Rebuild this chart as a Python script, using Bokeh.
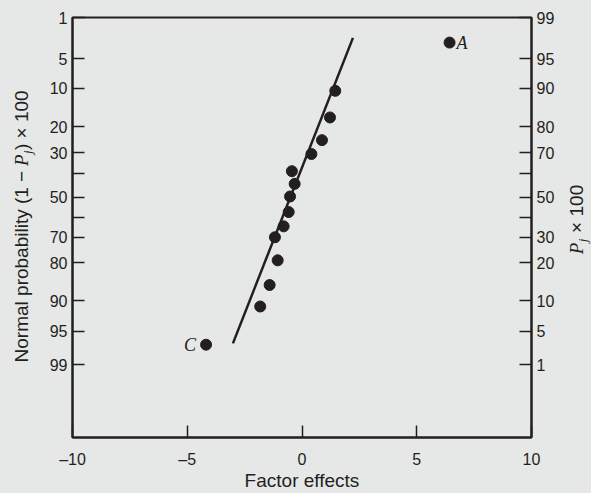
import math
from bokeh.plotting import figure
from bokeh.models import Range1d, LinearAxis, FixedTicker, Label
from bokeh.layouts import row
from bokeh.embed import file_html
from bokeh.resources import INLINE

# ---------------- data ----------------
# x: factor effect; y: position on the normal-probability scale (normal score units)
effect_x = [1.45, 1.22, 0.87, 0.41, -0.44, -0.32, -0.52, -0.58, -0.80, -1.18, -1.06, -1.41, -1.82]
effect_y = [-1.34, -1.005, -0.72, -0.546, -0.33, -0.171, -0.012, 0.183, 0.363, 0.50, 0.79, 1.10, 1.37]
outlier_names = ["A", "C"]
outlier_x = [6.43, -4.18]
outlier_y = [-1.946, 1.85]
fit_x = [-3.01, 2.22]
fit_y = [1.833, -2.005]

x_ticks = [-10, -5, 0, 5, 10]
x_tick_labels = ["\u201310", "\u20135", "0", "5", "10"]
left_tick_pos = [-2.26, -1.74, -1.37, -0.89, -0.56, -0.30, 0.0, 0.25, 0.50, 0.82, 1.30, 1.68, 2.10]
left_tick_labels = ["1", "5", "10", "20", "30", "", "50", "", "70", "80", "90", "95", "99"]
right_tick_pos = [-2.26, -1.74, -1.37, -0.89, -0.56, -0.30, 0.0, 0.25, 0.50, 0.82, 1.30, 1.68, 2.10]
right_tick_labels = ["99", "95", "90", "80", "70", "", "50", "", "30", "20", "10", "5", "1"]

x_label = "Factor effects"

# ---------------- styling ----------------
INK = "#231f20"
BG = "#e6e7e7"
SANS = "Liberation Sans"
SERIF = "Liberation Serif"

X0, X1 = -10, 10
Y_BOTTOM, Y_TOP = 3.016, -2.261

H = 493
TOP_B, BOT_B = 17, 54
LEFT_W, MAIN_W, RIGHT_W = 44, 516, 31

p = figure(width=MAIN_W, height=H, x_range=Range1d(X0, X1), y_range=Range1d(Y_BOTTOM, Y_TOP),
           output_backend="svg", toolbar_location=None,
           min_border_left=28, min_border_right=29, min_border_top=TOP_B, min_border_bottom=BOT_B)
p.background_fill_color = BG
p.border_fill_color = BG
p.outline_line_color = INK
p.outline_line_width = 2
p.grid.grid_line_color = None

p.xaxis.ticker = FixedTicker(ticks=x_ticks)
p.xaxis.major_label_overrides = dict(zip(x_ticks, x_tick_labels))
p.yaxis.ticker = FixedTicker(ticks=left_tick_pos)
p.yaxis.major_label_overrides = dict(zip(left_tick_pos, left_tick_labels))

yr = LinearAxis(ticker=FixedTicker(ticks=right_tick_pos),
                major_label_overrides=dict(zip(right_tick_pos, right_tick_labels)))
p.add_layout(yr, "right")

for ax in [p.xaxis[0], p.yaxis[0], yr]:
    ax.axis_line_color = INK
    ax.axis_line_width = 2
    ax.major_tick_in = 12
    ax.major_tick_out = 0
    ax.minor_tick_in = 0
    ax.minor_tick_out = 0
    ax.major_tick_line_color = INK
    ax.major_tick_line_width = 1.5
    ax.major_label_text_font = SANS
    ax.major_label_text_font_size = "16px"
    ax.major_label_text_color = INK
    ax.major_label_standoff = 5

xa = p.xaxis[0]
xa.major_label_standoff = 13
xa.axis_label = x_label
xa.axis_label_text_font = SANS
xa.axis_label_text_font_style = "normal"
xa.axis_label_text_font_size = "19px"
xa.axis_label_text_color = INK
xa.axis_label_standoff = -1

# fitted line and points
p.line(fit_x, fit_y, line_width=2.5, line_color=INK)
p.scatter(effect_x, effect_y, size=11, fill_color=INK, line_color=INK)
p.scatter(outlier_x, outlier_y, size=11, fill_color=INK, line_color=INK)

p.add_layout(Label(x=outlier_x[0], y=outlier_y[0], text=outlier_names[0], x_offset=7,
                   text_baseline="middle", text_align="left", text_font=SERIF,
                   text_font_style="italic", text_font_size="18px", text_color=INK))
p.add_layout(Label(x=outlier_x[1], y=outlier_y[1], text=outlier_names[1], x_offset=-10,
                   text_baseline="middle", text_align="right", text_font=SERIF,
                   text_font_style="italic", text_font_size="18px", text_color=INK))


# ---------------- side strips holding the rotated axis titles ----------------
# The row layout aligns the strips' frames with the main frame (top 17, bottom 54),
# so their ranges are expressed in page pixels over that frame.
def strip(x0, x1):
    f = figure(width=x1 - x0, height=H, x_range=Range1d(x0, x1),
               y_range=Range1d(H - BOT_B, TOP_B),
               output_backend="svg", toolbar_location=None,
               x_axis_location=None, y_axis_location=None,
               min_border_left=0, min_border_right=0,
               min_border_top=TOP_B, min_border_bottom=BOT_B)
    f.background_fill_color = BG
    f.border_fill_color = BG
    f.outline_line_color = None
    f.grid.visible = False
    return f


ROT = math.pi / 2


def vertical_title(fig, baseline_x, start_y, pieces):
    """pieces: (text, font, style, size, width_px, gap_before, is_sub) laid bottom-to-top."""
    s = start_y
    for text, font, style, size, w, gap, sub in pieces:
        s -= gap
        cy = s - w / 2.0
        bx = baseline_x + (4 if sub else 0)
        cx = bx - 0.3465 * size  # centre of the text box, left of the baseline
        fig.add_layout(Label(x=cx, y=cy, text=text, angle=ROT, text_align="center",
                             text_baseline="middle", text_font=font, text_font_style=style,
                             text_font_size=f"{size}px", text_color=INK))
        s -= w


left = strip(0, LEFT_W)
vertical_title(left, 27.5, 363.1, [
    ("Normal probability (1 \u2212", SANS, "normal", 19, 191.6, 0, False),
    ("P", SERIF, "italic", 19, 11.6, 5.3, False),
    ("j", SERIF, "italic", 13, 3.6, 0.5, True),
    (") \u00d7 100", SANS, "normal", 19, 59.7, 0.5, False),
])

right = strip(LEFT_W + MAIN_W, LEFT_W + MAIN_W + RIGHT_W)
vertical_title(right, 583.0, 254.8, [
    ("P", SERIF, "italic", 19, 11.6, 0, False),
    ("j", SERIF, "italic", 13, 3.6, 0.5, True),
    ("\u00d7 100", SANS, "normal", 19, 48.1, 5.8, False),
])

layout = row(left, p, right)

html = file_html(layout, INLINE)
html = html.replace("<body>", '<body style="background-color:#e6e7e7;">')
open("out.html", "w").write(html)
